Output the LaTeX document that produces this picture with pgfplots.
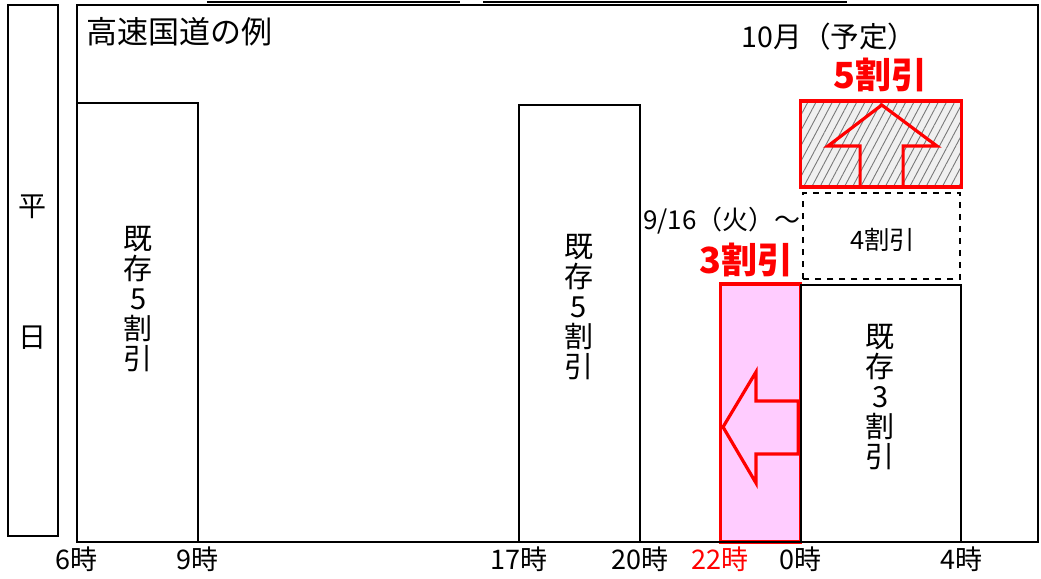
\documentclass[border=0pt]{standalone}
\usepackage{fontspec}
\setmainfont{Noto Sans CJK JP}
\usepackage{pgfplots}
\pgfplotsset{compat=1.18}
\usetikzlibrary{patterns.meta}
\definecolor{pinkfill}{RGB}{255,204,255}
\definecolor{hatch}{RGB}{120,120,120}

\begin{document}
\begin{tikzpicture}
\begin{axis}[
  x=20.1pt, y=0.5pt,
  xmin=6, xmax=29.9, ymin=0, ymax=537,
  axis line style={black, line width=0.9pt},
  ytick=\empty,
  xtick={6,9,17,20,22,24,28},
  xticklabels={6時,9時,17時,20時,\textcolor{red}{22時},0時,4時},
  major tick length=0pt,
  xticklabel style={font=\fontsize{13.5}{13.5}\selectfont, yshift=1pt},
  clip=false,
]
% page size
\path (axis cs:4.085,-34) rectangle (axis cs:29.98,542);

% lines cut off at the top
\addplot[black, line width=1pt] coordinates {(9.23,540.5)(15.53,540.5)};
\addplot[black, line width=1pt] coordinates {(16.1,540.5)(25.15,540.5)};

% weekday box
\addplot[black, line width=1pt] coordinates {(4.284,6)(4.284,537)(5.527,537)(5.527,6)} -- cycle;

% existing discount bars
\addplot[black, line width=1pt] coordinates {(6,0)(6,439)(9,439)(9,0)};
\addplot[black, line width=1pt] coordinates {(17,0)(17,437)(20,437)(20,0)};
\addplot[draw=red, fill=pinkfill, line width=1.6pt] coordinates {(22,0)(22,258)(24,258)(24,0)} -- cycle;
\addplot[black, line width=1pt] coordinates {(24,0)(24,257)(28,257)(28,0)};

% 4割引 dashed box
\addplot[black, dashed, line width=0.9pt] coordinates {(24.06,263)(24.06,349)(27.97,349)(27.97,263)} -- cycle;

% hatched 5割引 box
\addplot[draw=none, fill=gray!12] coordinates {(24,355)(24,441)(28,441)(28,355)} -- cycle;
\addplot[draw=none, pattern={Lines[angle=62, distance=3.6pt, line width=0.45pt]}, pattern color=hatch]
  coordinates {(24,355)(24,441)(28,441)(28,355)} -- cycle;
\addplot[red, line width=1.6pt] coordinates {(24,355)(24,441)(28,441)(28,355)} -- cycle;

% arrows
\addplot[red, line width=1.6pt] coordinates {(25.48,355)(25.48,396)(24.68,396)(26.02,437)(27.39,396)(26.55,396)(26.55,355)} -- cycle;
\addplot[red, line width=1.6pt] coordinates {(23.94,141)(22.89,141)(22.89,170)(22.07,115)(22.89,59)(22.89,88)(23.94,88)} -- cycle;

% bottom axis line
\addplot[black, line width=1.2pt] coordinates {(6,0)(29.9,0)};

% texts
\node[anchor=west, font=\fontsize{15.5}{15.5}\selectfont] at (axis cs:6.05,510) {高速国道の例};
\node[font=\fontsize{14.3}{14.3}\selectfont] at (axis cs:24.71,505) {10月（予定）};
\node[font=\bfseries\fontsize{18}{18}\selectfont, text=red] at (axis cs:25.98,467) {5割引};
\node[font=\fontsize{13}{13}\selectfont] at (axis cs:22.04,321) {9/16（火）～};
\node[font=\bfseries\fontsize{18}{18}\selectfont, text=red] at (axis cs:22.65,282) {3割引};
\node[font=\fontsize{12.7}{12.7}\selectfont] at (axis cs:26.04,302) {4割引};
\node[align=center, font=\fontsize{14.5}{15}\selectfont] at (axis cs:7.52,243) {既\\存\\5\\割\\引};
\node[align=center, font=\fontsize{14.5}{15}\selectfont] at (axis cs:18.48,235) {既\\存\\5\\割\\引};
\node[align=center, font=\fontsize{14.5}{15}\selectfont] at (axis cs:25.98,145) {既\\存\\3\\割\\引};
\node[font=\fontsize{14}{14}\selectfont] at (axis cs:4.905,335) {平};
\node[font=\fontsize{14}{14}\selectfont] at (axis cs:4.905,204) {日};
\end{axis}
\end{tikzpicture}
\end{document}
